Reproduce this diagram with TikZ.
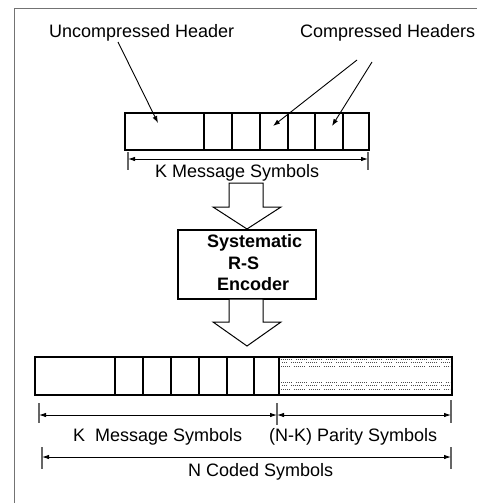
\documentclass[tikz,border=0pt]{standalone}
\usepackage{fontspec}
\setmainfont{Liberation Sans}
\usetikzlibrary{arrows.meta}
\begin{document}
\begin{tikzpicture}[x=1pt,y=-1pt,
  lbl/.style={font=\fontsize{18}{20}\selectfont, inner sep=0pt, anchor=base west},
  blbl/.style={lbl, font=\fontsize{18}{20}\selectfont\bfseries},
  barbox/.style={draw, line width=2.8pt, inner sep=0pt},
  divider/.style={line width=1.9pt},
  pointer/.style={line width=0.9pt, -{Latex[length=7pt,width=5pt]}},
  dimline/.style={line width=0.9pt, {Latex[length=7pt,width=4.5pt]}-{Latex[length=7pt,width=4.5pt]}},
  tick/.style={line width=1.4pt, draw=black!60},
  blockarrow/.style={draw, line width=1pt, fill=white},
  dotrow/.style={draw=black!70, line width=0.9pt, dash pattern=on 0.9pt off 1.1pt on 0.9pt off 1.1pt on 0.9pt off 1.1pt on 0.9pt off 1.1pt on 0.9pt off 1.1pt on 0.9pt off 4.1pt},
  frameline/.style={draw=black!55, line width=1.5pt}]
\useasboundingbox (0,0) rectangle (477,503);
% frame
\draw[frameline] (14.5,503) -- (14.5,8.5) -- (477,8.5);

% labels on top
\node[lbl] (uh) at (49,37.5) {Uncompressed Header};
\node[lbl] (ch) at (300,37.5) {Compressed Headers};

% top bar
\node[barbox, minimum width=244pt, minimum height=37pt] (topbar) at (247,131.5) {};
\foreach \x in {204,232,260,288,315,343}
  \draw[divider] (\x,113) -- (\x,150);

% pointers
\coordinate (p1s) at (118,42);  \coordinate (p1e) at (158,123);
\coordinate (p2s) at (357,60);  \coordinate (p2e) at (273,126);
\coordinate (p3s) at (372,62);  \coordinate (p3e) at (332,126);
\draw[pointer] (p1s) -- (p1e);
\draw[pointer] (p2s) -- (p2e);
\draw[pointer] (p3s) -- (p3e);

% K message symbols (top)
\draw[tick] (128,152) -- (128,170);
\draw[tick] (368,152) -- (368,170);
\coordinate (d1l) at (128,159); \coordinate (d1r) at (368,159);
\draw[dimline] (d1l) -- (d1r);
\node[lbl] (kms) at (155,177) {K Message Symbols};

% encoder
\draw[blockarrow] (229,183) -- (263,183) -- (263,207) -- (281,207) -- (247,229) -- (213,207) -- (229,207) -- cycle;
\node[draw, line width=1.5pt, minimum width=138pt, minimum height=69pt, inner sep=0pt] (enc) at (247,264.5) {};
\node[blbl] (e1) at (207,247) {Systematic};
\node[blbl] (e2) at (228,269) {R-S};
\node[blbl] (e3) at (217,290) {Encoder};
\draw[blockarrow] (229,299) -- (263,299) -- (263,322) -- (281,322) -- (247,346) -- (213,322) -- (229,322) -- cycle;

% bottom bar
\node[inner sep=0pt, minimum width=173pt, minimum height=38pt] (parity) at (365.5,376) {};
\begin{scope}
  \clip (281,358) rectangle (450,394);
  \draw[dotrow] (281,359) -- (452,359);
  \draw[dotrow, dash phase=5pt] (281,362.3) -- (452,362.3);
  \draw[dotrow, dash phase=2pt] (281,366.5) -- (452,366.5);
  \draw[dotrow] (281,382) -- (452,382);
  \draw[dotrow, dash phase=5pt] (281,385.5) -- (452,385.5);
  \draw[dotrow, dash phase=2pt] (281,389.5) -- (452,389.5);
\end{scope}
\node[barbox, minimum width=417pt, minimum height=38pt] (botbar) at (243.5,376) {};
\foreach \x in {115,143,171,199,227,254}
  \draw[divider] (\x,357) -- (\x,395);
\draw[line width=2.4pt] (279,357) -- (279,395);

% bottom dimensions
\draw[tick] (39,403) -- (39,423);
\draw[tick] (277,403) -- (277,425);
\draw[tick] (451,400) -- (451,423);
\coordinate (b1l) at (39,415); \coordinate (b1m) at (277,415); \coordinate (b1r) at (451,415);
\draw[dimline] (b1l) -- (b1m);
\draw[dimline] (b1m) -- (b1r);
\node[lbl] (kms2) at (73,441) {K\ \ Message Symbols};
\node[lbl] (nkp) at (269,441) {(N-K) Parity Symbols};

\draw[tick] (42,447) -- (42,469);
\draw[tick] (451,447) -- (451,469);
\coordinate (b2l) at (42,457); \coordinate (b2r) at (451,457);
\draw[dimline] (b2l) -- (b2r);
\node[lbl] (ncs) at (188,476.5) {N Coded Symbols};
\end{tikzpicture}
\end{document}
